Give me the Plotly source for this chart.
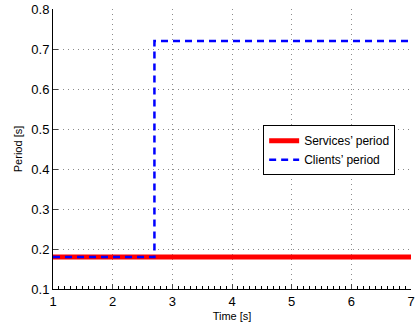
import plotly.graph_objects as go

services_t = [1, 7]
services_period = [0.18, 0.18]
clients_t = [1, 2.7, 7]
clients_period = [0.18, 0.72, 0.72]
x_ticks = [1, 2, 3, 4, 5, 6, 7]
y_ticks = [0.1, 0.2, 0.3, 0.4, 0.5, 0.6, 0.7, 0.8]

fig = go.Figure()
fig.add_trace(go.Scatter(x=services_t, y=services_period, mode="lines",
                         name="Services\u2019 period",
                         line=dict(color="#ff0000", width=5)))
fig.add_trace(go.Scatter(x=clients_t, y=clients_period, mode="lines",
                         name="Clients\u2019 period", line_shape="hv",
                         line=dict(color="#0000ff", width=2.5, dash="7px,5px")))

font = "Liberation Sans, Arial, Helvetica, sans-serif"
grid = dict(showgrid=True, gridcolor="#8c8c8c", griddash="1px,4px", gridwidth=1)
fig.update_layout(
    width=416, height=326,
    margin=dict(l=53, r=5, t=9, b=37, autoexpand=False),
    paper_bgcolor="white", plot_bgcolor="white",
    font=dict(family=font, size=13, color="black"),
    showlegend=True,
    legend=dict(x=0.587, y=0.585, xanchor="left", yanchor="top",
                bgcolor="white", bordercolor="black", borderwidth=1,
                font=dict(size=12), tracegroupgap=0, itemwidth=30),
    xaxis=dict(range=[1, 7], tickvals=x_ticks, ticks="inside", ticklen=5,
               showline=True, linecolor="black", linewidth=1,
               zeroline=False, mirror=False, automargin=False, **grid,
               minor=dict(dtick=0.1, ticks="inside", ticklen=3, tickcolor="black", showgrid=False),
               title=dict(text="Time [s]", font=dict(size=11), standoff=4),
               tickfont=dict(size=13)),
    yaxis=dict(range=[0.1, 0.8], tickvals=y_ticks, ticks="inside", ticklen=5,
               tickformat=".1f",
               showline=True, linecolor="black", linewidth=1,
               zeroline=False, mirror=False, automargin=False, **grid,
               title=dict(text="Period [s]", font=dict(size=11), standoff=6),
               tickfont=dict(size=13)),
)
fig.write_html("out.html", config={"displayModeBar": False},
               post_script="document.body.style.margin='0';document.body.style.overflow='hidden';")
